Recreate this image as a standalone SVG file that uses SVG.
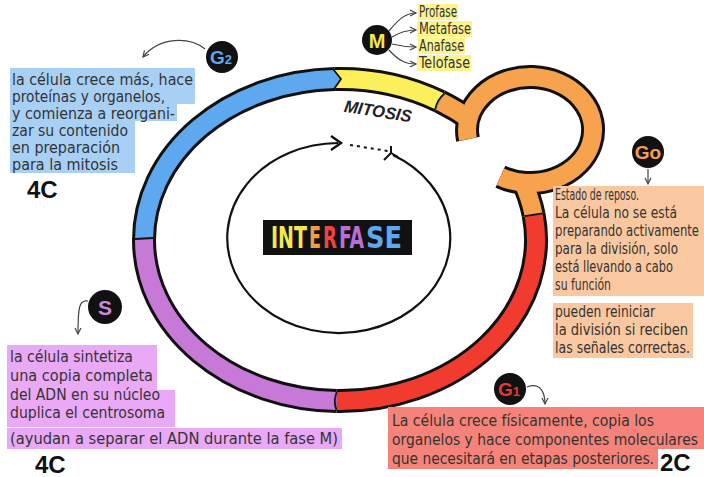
<svg xmlns="http://www.w3.org/2000/svg" width="704" height="477" viewBox="0 0 704 477">
<style>
.ol{fill:none;stroke:#111;stroke-width:24}
.band{fill:none;stroke-width:18}
.sep{fill:none;stroke:#111;stroke-width:1.8}
.hw{font-family:"Liberation Sans Narrow","DejaVu Sans Condensed",sans-serif;font-size:16px;fill:#333}
.big{font-family:"Liberation Sans","DejaVu Sans",sans-serif;font-weight:bold;font-size:24px;fill:#111}
.lab{font-family:"Liberation Sans","DejaVu Sans",sans-serif;font-weight:bold;text-anchor:middle}
.ann{fill:none;stroke:#444;stroke-width:1.2}
.ifs{font-family:"Liberation Sans Narrow","DejaVu Sans Condensed",sans-serif;font-weight:bold;font-size:31px}
</style>
<defs>
<marker id="ah" markerUnits="userSpaceOnUse" markerWidth="9" markerHeight="9" refX="7" refY="4" orient="auto"><path d="M1,1 L7,4 L1,7" fill="none" stroke="#444" stroke-width="1.2"/></marker>
</defs>
<rect width="704" height="477" fill="#fff"/>

<g id="cell-cycle-ring">
<path class="ol" d="M144 240 A196 161 0 0 1 334.9 79.05"/>
<path class="ol" d="M334.9 79.05 A196 161 0 0 1 439.8 101.4"/>
<path class="ol" d="M439.8 101.4 A196 161 0 0 1 471.1 120.4"/>
<path class="ol" d="M468 139.2 A63 53 0 1 1 500.4 176.8"/>
<path class="ol" d="M521.7 179.7 A196 161 0 0 1 533.6 214.8"/>
<path class="ol" d="M533.6 214.8 A196 161 0 0 1 336.6 401"/>
<path class="ol" d="M336.6 401 A196 161 0 0 1 144 240"/>
<path class="band" stroke="#5ea8ef" d="M144 240 A196 161 0 0 1 334.9 79.05"/>
<path class="band" stroke="#fbef5c" d="M334.9 79.05 A196 161 0 0 1 439.8 101.4"/>
<path class="band" stroke="#f7a24c" d="M439.8 101.4 A196 161 0 0 1 471.1 120.4"/>
<path class="band" stroke="#f7a24c" d="M468 139.2 A63 53 0 1 1 500.4 176.8"/>
<path class="band" stroke="#f7a24c" d="M521.7 179.7 A196 161 0 0 1 533.6 214.8"/>
<path class="band" stroke="#f23b2f" d="M533.6 214.8 A196 161 0 0 1 336.6 401"/>
<path class="band" stroke="#c679d6" d="M336.6 401 A196 161 0 0 1 144 240"/>
<path d="M333 70 L341 79 L334 88 Z" fill="#5ea8ef"/>
<path class="sep" d="M333 69 L341 79 L334 89"/>
<path class="sep" d="M444.3 93.7 Q437 100 435.2 109.2"/>
<path class="sep" d="M524.7 216.2 L542.5 213.4"/>
<path class="sep" d="M336.4 410 Q333 401 336.7 392"/>
<path class="sep" d="M135 239 L153 238"/>
</g>

<g id="inner-cycle">
<path d="M393 155 A111.5 95 0 1 1 338 143" fill="none" stroke="#111" stroke-width="2.2"/>
<path d="M331 136 L341 143 L331 150" fill="none" stroke="#111" stroke-width="2.4"/>
<path d="M350 145 L388 151" fill="none" stroke="#111" stroke-width="2" stroke-dasharray="3 4"/>
<path d="M391 146 L391 153 M384 160 L391 153 L398 157" fill="none" stroke="#111" stroke-width="2"/>
</g>

<g id="interfase">
<rect x="263" y="220" width="149" height="35" fill="#111"/>
<text class="ifs" x="271" y="248" fill="#f3ea4a" textLength="36" lengthAdjust="spacingAndGlyphs">INT</text>
<text class="ifs" x="309" y="248" fill="#f59a45" textLength="12" lengthAdjust="spacingAndGlyphs">E</text>
<text class="ifs" x="323" y="248" fill="#f0453a" textLength="14" lengthAdjust="spacingAndGlyphs">R</text>
<text class="ifs" x="339" y="248" fill="#b86fd4" textLength="25" lengthAdjust="spacingAndGlyphs">FA</text>
<text class="ifs" x="366" y="248" fill="#5ea8ef" textLength="36" lengthAdjust="spacingAndGlyphs">SE</text>
</g>

<g id="mitosis">
<text transform="translate(377 117) rotate(9)" text-anchor="middle" font-family="'Liberation Sans','DejaVu Sans',sans-serif" font-weight="bold" font-style="italic" font-size="17" fill="#222" textLength="68" lengthAdjust="spacingAndGlyphs">MITOSIS</text>
</g>

<g id="node-m">
<circle cx="377" cy="40" r="15" fill="#111"/>
<text class="lab" x="377" y="47.5" font-size="20" fill="#f3ea4a">M</text>
<rect x="418" y="4" width="40" height="16" fill="#fbf48d"/>
<rect x="417" y="21" width="55" height="16" fill="#fbf48d"/>
<rect x="418" y="38" width="47" height="16" fill="#fbf48d"/>
<rect x="417" y="55" width="54" height="16" fill="#fbf48d"/>
<text class="hw" x="419" y="17" font-size="15" textLength="38" lengthAdjust="spacingAndGlyphs">Profase</text>
<text class="hw" x="419" y="34" font-size="15" textLength="52" lengthAdjust="spacingAndGlyphs">Metafase</text>
<text class="hw" x="419" y="51" font-size="15" textLength="45" lengthAdjust="spacingAndGlyphs">Anafase</text>
<text class="hw" x="419" y="68" font-size="15" textLength="51" lengthAdjust="spacingAndGlyphs">Telofase</text>
</g>

<g id="node-g2">
<circle cx="222" cy="57" r="16" fill="#111"/>
<text class="lab" x="221" y="64" font-size="19" fill="#5ea8ef">G<tspan font-size="13">2</tspan></text>
<rect x="10" y="68" width="185" height="36" fill="#a8d0f5"/>
<rect x="10" y="104" width="167" height="17" fill="#a8d0f5"/>
<rect x="10" y="121" width="125" height="52" fill="#a8d0f5"/>
<text class="hw" x="12" y="85" textLength="181" lengthAdjust="spacingAndGlyphs">la célula crece más, hace</text>
<text class="hw" x="12" y="102" textLength="153" lengthAdjust="spacingAndGlyphs">proteínas y organelos,</text>
<text class="hw" x="12" y="119" textLength="163" lengthAdjust="spacingAndGlyphs">y comienza a reorgani-</text>
<text class="hw" x="12" y="136" textLength="116" lengthAdjust="spacingAndGlyphs">zar su contenido</text>
<text class="hw" x="12" y="153" textLength="108" lengthAdjust="spacingAndGlyphs">en preparación</text>
<text class="hw" x="12" y="170" textLength="106" lengthAdjust="spacingAndGlyphs">para la mitosis</text>
<text class="big" x="27" y="198">4C</text>
</g>

<g id="node-g0">
<circle cx="648" cy="152" r="16" fill="#111"/>
<text class="lab" x="648" y="159" font-size="19" fill="#f5a04a">Go</text>
<rect x="553" y="186" width="151" height="110" fill="#f9c8a0"/>
<rect x="553" y="303" width="140" height="55" fill="#f9c8a0"/>
<text class="hw" x="555" y="200" textLength="84" lengthAdjust="spacingAndGlyphs">Estado de reposo.</text>
<text class="hw" x="555" y="218" textLength="122" lengthAdjust="spacingAndGlyphs">La célula no se está</text>
<text class="hw" x="555" y="236" textLength="144" lengthAdjust="spacingAndGlyphs">preparando activamente</text>
<text class="hw" x="555" y="254" textLength="123" lengthAdjust="spacingAndGlyphs">para la división, solo</text>
<text class="hw" x="555" y="272" textLength="118" lengthAdjust="spacingAndGlyphs">está llevando a cabo</text>
<text class="hw" x="555" y="290" textLength="56" lengthAdjust="spacingAndGlyphs">su función</text>
<text class="hw" x="555" y="317" textLength="100" lengthAdjust="spacingAndGlyphs">pueden reiniciar</text>
<text class="hw" x="555" y="335" textLength="133" lengthAdjust="spacingAndGlyphs">la división si reciben</text>
<text class="hw" x="555" y="353" textLength="135" lengthAdjust="spacingAndGlyphs">las señales correctas.</text>
</g>

<g id="node-s">
<circle cx="105" cy="307" r="17" fill="#111"/>
<text class="lab" x="105" y="315" font-size="21" fill="#c98ad8" font-family="'Liberation Serif',serif">S</text>
<rect x="7" y="345" width="150" height="45" fill="#eaa9f6"/>
<rect x="7" y="390" width="168" height="37" fill="#eaa9f6"/>
<rect x="7" y="428" width="335" height="21" fill="#eaa9f6"/>
<text class="hw" x="10" y="362" textLength="123" lengthAdjust="spacingAndGlyphs">la célula sintetiza</text>
<text class="hw" x="10" y="381" textLength="143" lengthAdjust="spacingAndGlyphs">una copia  completa</text>
<text class="hw" x="10" y="400" textLength="150" lengthAdjust="spacingAndGlyphs">del ADN en su núcleo</text>
<text class="hw" x="10" y="418" textLength="155" lengthAdjust="spacingAndGlyphs">duplica el centrosoma</text>
<text class="hw" x="10" y="444" textLength="328" lengthAdjust="spacingAndGlyphs">(ayudan a separar el ADN durante la fase M)</text>
<text class="big" x="35" y="473">4C</text>
</g>

<g id="node-g1">
<circle cx="510" cy="389" r="16" fill="#111"/>
<text class="lab" x="509" y="396" font-size="19" fill="#e8392f">G<tspan font-size="13">1</tspan></text>
<rect x="388" y="407" width="316" height="42" fill="#f5837a"/>
<rect x="388" y="449" width="270" height="20" fill="#f5837a"/>
<text class="hw" x="392" y="426" font-size="16.5" textLength="262" lengthAdjust="spacingAndGlyphs">La célula crece físicamente, copia los</text>
<text class="hw" x="392" y="445" font-size="16.5" textLength="306" lengthAdjust="spacingAndGlyphs">organelos y hace componentes moleculares</text>
<text class="hw" x="392" y="464" font-size="16.5" textLength="262" lengthAdjust="spacingAndGlyphs">que necesitará en etapas posteriores.</text>
<text class="big" x="660" y="471">2C</text>
</g>

<g id="connectors">
<path class="ann" marker-end="url(#ah)" d="M205 49 C190 37 160 36 143 57"/>
<path class="ann" marker-end="url(#ah)" d="M389 31 C398 20 405 13 416 13"/>
<path class="ann" marker-end="url(#ah)" d="M392 37 C400 32 406 30 416 30"/>
<path class="ann" marker-end="url(#ah)" d="M392 44 C400 46 406 47 416 47"/>
<path class="ann" marker-end="url(#ah)" d="M389 50 C398 60 405 64 416 64"/>
<path class="ann" marker-end="url(#ah)" d="M648 169 L648 184"/>
<path class="ann" marker-end="url(#ah)" d="M88 301 C79 299 78 308 78 334"/>
<path class="ann" marker-end="url(#ah)" d="M527 387 C540 382 545 392 545 404"/>
</g>
</svg>
